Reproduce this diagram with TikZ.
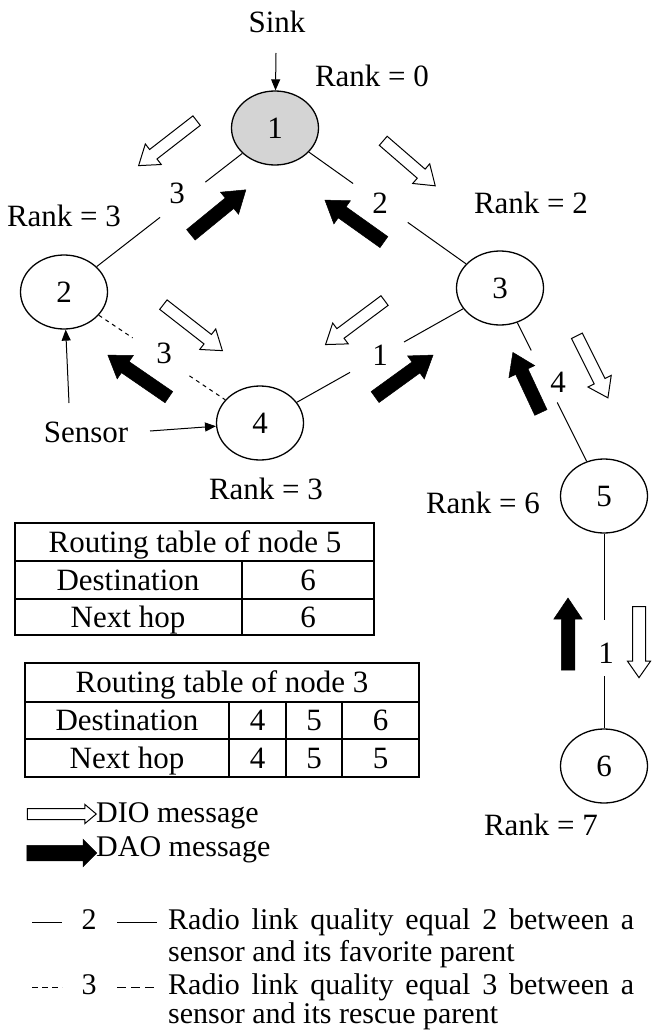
\documentclass[tikz,border=0pt]{standalone}
\usepackage{fontspec}
\setmainfont{Liberation Serif}
\usetikzlibrary{shapes.geometric,shapes.arrows,arrows.meta,calc}

% block arrow between two points: #1 name, #2 style, #3 tail, #4 tip
\newcommand\flowarrow[4]{%
  \path let \p1=#3, \p2=#4,
    \n1={atan2(\y2-\y1,\x2-\x1)}, \n2={veclen(\x2-\x1,\y2-\y1)} in
    node[#2, rotate=\n1, minimum height=\n2] (#1) at ($#3!0.5!#4$) {};}

\tikzset{
  lbl/.style={font=\fontsize{31}{36}\selectfont, inner sep=0pt, anchor=base},
  lgd/.style={font=\fontsize{30}{35}\selectfont, inner sep=0pt, anchor=base west},
  mote/.style={ellipse, draw, line width=1.3pt, minimum width=87pt, minimum height=74pt,
    inner sep=0pt, font=\fontsize{31}{36}\selectfont},
  link/.style={line width=1pt},
  backup/.style={line width=1pt, dash pattern=on 4pt off 4pt},
  % shaft width = 2 * inner ysep, head width = shaft + 2 * head extend
  blockarrow/.style={single arrow, inner xsep=0pt, minimum width=0pt},
  dio/.style={blockarrow, draw, line width=1pt, fill=white, inner ysep=5.5pt,
    single arrow head extend=7pt, single arrow tip angle=70},
  dao/.style={blockarrow, draw, line width=0.5pt, fill=black, inner ysep=6.5pt,
    single arrow head extend=7.5pt, single arrow tip angle=68},
  pointer/.style={line width=1pt, -{Triangle[length=11pt,width=9pt]}},
  grid/.style={line width=1.3pt},
}

\begin{document}
\begin{tikzpicture}[x=1pt, y=-1pt]
  \fill[white] (0,0) rectangle (652,1030);
  \useasboundingbox (0,0) rectangle (652,1030);

  % sensors
  \node[mote, fill=black!17] (n1) at (275,128) {1};
  \node[mote] (n2) at (64,292) {2};
  \node[mote] (n3) at (500,288) {3};
  \node[mote] (n4) at (260,423) {4};
  \node[mote] (n5) at (604,496) {5};
  \node[mote] (n6) at (604,766) {6};

  % radio links, interrupted where the quality value sits
  \coordinate (g12a) at ($(n1)!0.33!(n2)$);  \coordinate (g12b) at ($(n1)!0.545!(n2)$);
  \coordinate (g13a) at ($(n1)!0.347!(n3)$); \coordinate (g13b) at ($(n1)!0.59!(n3)$);
  \coordinate (g24a) at ($(n2)!0.35!(n4)$);  \coordinate (g24b) at ($(n2)!0.64!(n4)$);
  \coordinate (g43a) at ($(n4)!0.375!(n3)$); \coordinate (g43b) at ($(n4)!0.6!(n3)$);
  \coordinate (g35a) at ($(n3)!0.30!(n5)$);  \coordinate (g35b) at ($(n3)!0.55!(n5)$);
  \coordinate (g56a) at ($(n5)!0.46!(n6)$);  \coordinate (g56b) at ($(n5)!0.667!(n6)$);

  \draw[link] (n1) -- (g12a);  \draw[link] (g12b) -- (n2);
  \draw[link] (n1) -- (g13a);  \draw[link] (g13b) -- (n3);
  \draw[backup] (n2) -- (g24a); \draw[backup] (g24b) -- (n4);
  \draw[link] (n4) -- (g43a);  \draw[link] (g43b) -- (n3);
  \draw[link] (n3) -- (g35a);  \draw[link] (g35b) -- (n5);
  \draw[link] (n5) -- (g56a);  \draw[link] (g56b) -- (n6);

  \node[lbl] (q12) at (177,203) {3};
  \node[lbl] (q13) at (380,213) {2};
  \node[lbl] (q24) at (164,363) {3};
  \node[lbl] (q43) at (380,365) {1};
  \node[lbl] (q35) at (558,392) {4};
  \node[lbl] (q56) at (606,663) {1};

  % ranks and annotations
  \node[lbl] (r1) at (372,87) {Rank = 0};
  \node[lbl] (r2) at (64,226) {Rank = 3};
  \node[lbl] (r3) at (531,213) {Rank = 2};
  \node[lbl] (r4) at (266,499) {Rank = 3};
  \node[lbl] (r5) at (483,513) {Rank = 6};
  \node[lbl] (r6) at (541,835) {Rank = 7};

  \node[lbl] (sink) at (277,33) {Sink};
  \coordinate (sinktail) at (276,53);
  \draw[pointer] (sinktail) -- (n1);

  \node[lbl] (sensor) at (86,442) {Sensor};
  \coordinate (sensup) at (69,403);
  \coordinate (sensright) at (150,431);
  \draw[pointer] (sensup) -- (n2);
  \draw[pointer] (sensright) -- (n4);

  % DIO messages (downward)
  \flowarrow{dioA}{dio}{(200,118)}{(142,163)}
  \flowarrow{dioB}{dio}{(380,138)}{(432,183)}
  \flowarrow{dioC}{dio}{(160,302)}{(219,348)}
  \flowarrow{dioD}{dio}{(388,298)}{(329,342)}
  \flowarrow{dioE}{dio}{(575,332)}{(606,394)}
  \flowarrow{dioF}{dio, inner ysep=6pt, single arrow head extend=5pt}{(639,602)}{(639,673)}

  % DAO messages (upward)
  \flowarrow{daoA}{dao}{(187,238)}{(242,193)}
  \flowarrow{daoB}{dao}{(388,245)}{(329,203)}
  \flowarrow{daoC}{dao}{(173,400)}{(112,358)}
  \flowarrow{daoD}{dao}{(371,400)}{(429,358)}
  \flowarrow{daoE}{dao}{(543,417)}{(515,357)}
  \flowarrow{daoF}{dao}{(568,675)}{(568,603)}

  % routing table of node 5
  \draw[grid] (15,523) rectangle (374,635);
  \draw[grid] (15,561) -- (374,561);
  \draw[grid] (15,599) -- (374,599);
  \draw[grid] (242,561) -- (242,635);
  \node[lbl] (t5h) at (195,552) {Routing table of node 5};
  \node[lbl] (t5d) at (128,590) {Destination};
  \node[lbl] (t5dv) at (308,590) {6};
  \node[lbl] (t5n) at (128,627) {Next hop};
  \node[lbl] (t5nv) at (308,627) {6};

  % routing table of node 3
  \draw[grid] (25,663) rectangle (419,777);
  \draw[grid] (25,702) -- (419,702);
  \draw[grid] (25,739) -- (419,739);
  \draw[grid] (229,702) -- (229,777);
  \draw[grid] (286,702) -- (286,777);
  \draw[grid] (342,702) -- (342,777);
  \node[lbl] (t3h) at (222,692) {Routing table of node 3};
  \node[lbl] (t3d) at (127,730) {Destination};
  \node[lbl] (t3d4) at (257.5,730) {4};
  \node[lbl] (t3d5) at (314,730) {5};
  \node[lbl] (t3d6) at (380.5,730) {6};
  \node[lbl] (t3n) at (127,768) {Next hop};
  \node[lbl] (t3n4) at (257.5,768) {4};
  \node[lbl] (t3n5) at (314,768) {5};
  \node[lbl] (t3n6) at (380.5,768) {5};

  % legend
  \flowarrow{legdio}{dio, inner ysep=5pt, single arrow head extend=4pt, single arrow tip angle=80}{(24,814)}{(93,814)}
  \node[lgd] (legdiotxt) at (96,822) {DIO message};
  \flowarrow{legdao}{dao, inner ysep=7.5pt, single arrow head extend=6pt, single arrow tip angle=90}{(23,853)}{(93,853)}
  \node[lgd] (legdaotxt) at (96,856) {DAO message};

  \draw[link] (32,922) -- (62,922);
  \node[lbl, font=\fontsize{30}{35}\selectfont] (leg2) at (89,929) {2};
  \draw[link] (117,922) -- (157,922);
  \node[lgd] (legl1) at (168,929) {\makebox[466pt][s]{Radio link quality equal 2 between a}};
  \node[lgd] (legl2) at (168,961) {sensor and its favorite parent};

  \draw[backup, dash pattern=on 6pt off 4pt] (32,987) -- (62,987);
  \node[lbl, font=\fontsize{30}{35}\selectfont] (leg3) at (89,994) {3};
  \draw[backup, dash pattern=on 9pt off 5pt] (117,987) -- (157,987);
  \node[lgd] (legl3) at (168,994) {\makebox[466pt][s]{Radio link quality equal 3 between a}};
  \node[lgd] (legl4) at (168,1023) {sensor and its rescue parent};
\end{tikzpicture}
\end{document}
